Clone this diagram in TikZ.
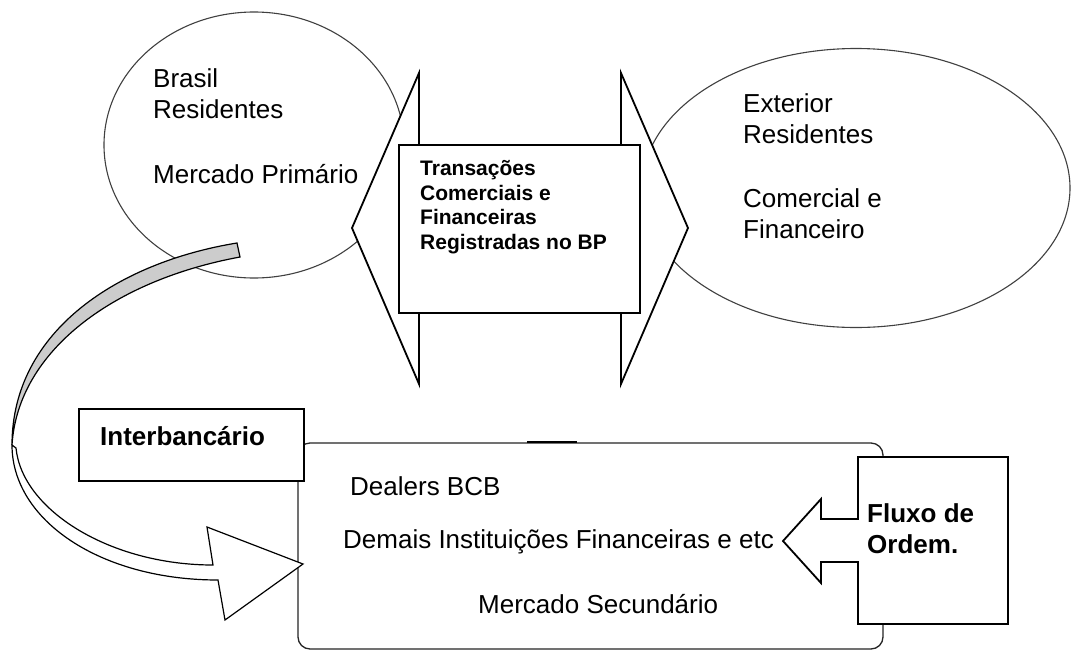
\documentclass[tikz,border=0pt]{standalone}
\usepackage{fontspec}
\setmainfont{Liberation Sans}
\usetikzlibrary{shapes.geometric}
\begin{document}
\begin{tikzpicture}[x=1pt,y=-1pt,
  ell/.style={ellipse, draw=black!75, line width=1.1pt, inner sep=0pt},
  boxn/.style={draw=black, line width=1.8pt, fill=white, inner sep=0pt},
  plain/.style={inner sep=0pt, anchor=base west, align=left, font=\fontsize{26}{31}\selectfont},
  boldl/.style={inner sep=0pt, anchor=base west, align=left, font=\fontsize{26}{31}\selectfont\bfseries},
  bolds/.style={inner sep=0pt, anchor=base west, align=left, font=\fontsize{21}{24.5}\selectfont\bfseries},
  outl/.style={draw=black, line width=1.8pt, fill=white, line join=miter},
  ribbon/.style={draw=black, line width=1.2pt},
]
\useasboundingbox (0,0) rectangle (1071,651);
\fill[white] (0,0) rectangle (1071,651);

% ellipses
\node[ell, minimum width=300pt, minimum height=266pt] (brasil) at (254,145) {};
\node[ell, minimum width=428pt, minimum height=279pt] (exterior) at (856,188) {};

% double arrow
\draw[outl] (352,228) -- (419,73) -- (419,160) -- (621,160) -- (621,73) -- (688,228)
  -- (621,384) -- (621,296) -- (419,296) -- (419,384) -- cycle;
\node[boxn, minimum width=241pt, minimum height=168pt] (trans) at (519.5,229) {};

% secondary market box
\draw[draw=black!85, line width=1.3pt, rounded corners=12pt, fill=white] (298,443) rectangle (883,649);
\draw[line width=2.2pt] (527,442) -- (577,442);

% curved ribbon arrow
\filldraw[ribbon, fill=gray!40] (237,243) .. controls (120,262) and (12,330) .. (12,445)
  .. controls (18,350) and (115,280) .. (240,257) -- cycle;
\filldraw[ribbon, fill=white] (12,445) .. controls (12,520) and (100,580) .. (218,580)
  -- (225,620) -- (303,564) -- (207,527) -- (213,565)
  .. controls (110,565) and (22,510) .. (16,448) -- cycle;

% interbancario box
\node[boxn, minimum width=225pt, minimum height=72pt] (inter) at (191.5,445) {};

% fluxo de ordem callout
\draw[outl] (858,457) -- (1008,457) -- (1008,624) -- (858,624) -- (858,562) -- (821,562)
  -- (821,583) -- (783,541) -- (821,499) -- (821,519) -- (858,519) -- cycle;

% texts (base anchor = baseline of last line)
\node[plain] (tbrasil) at (153,183) {Brasil\\Residentes\\[34pt]Mercado Primário};
\node[plain] (text) at (743,238) {Exterior\\Residentes\\[33pt]Comercial e\\Financeiro};
\node[bolds] (ttrans) at (420,249) {Transações\\Comerciais e\\Financeiras\\Registradas no BP};
\node[boldl] (tinter) at (100,445) {Interbancário};
\node[boldl] (tfluxo) at (867,553) {Fluxo de\\Ordem.};
\node[plain] (tdealers) at (350,495) {Dealers BCB};
\node[plain] (tdemais) at (343,548) {Demais Instituições Financeiras e etc};
\node[plain] (tsec) at (478,613) {Mercado Secundário};
\end{tikzpicture}
\end{document}
